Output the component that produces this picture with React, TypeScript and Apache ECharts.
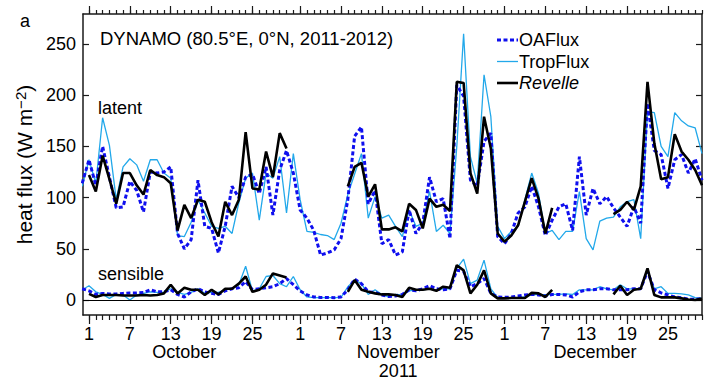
import React, { useEffect, useRef } from 'react';
import * as echarts from 'echarts';

// Day index: 0 = 1 Oct 2011 ... 90 = 30 Dec 2011 (first entry = 30 Sep)
const FIRST_DAY = -1;
const N = 92;
const DAYS: number[] = Array.from({ length: N }, (_, i) => FIRST_DAY + i);

// Latent heat flux (W m-2)
const OA_LATENT: (number | null)[] = [114,
  137, 112, 150, 120, 90, 91, 116, 107, 86, 125,
  124, 125, 130, 65, 50, 59, 117, 72, 70, 46,
  72, 111, 100, 120, 123, 104, 130, 83, 127, 146,
  124, 88, 80, 68, 44, 46, 49, 60, 98, 160,
  169, 94, 107, 55, 59, 44, 47, 88, 65, 75,
  120, 96, 99, 60, 210, 199, 117, 111, 155, 163,
  62, 55, 65, 85, 91, 111, 91, 63, 78, 91,
  94, 68, 140, 83, 109, 94, 101, 90, 81, 72,
  91, 75, 192, 146, 142, 109, 137, 142, 124, 138,
  117];
const TROP_LATENT: (number | null)[] = [111,
  137, 114, 178, 151, 98, 130, 138, 132, 116, 137,
  137, 124, 119, 63, 62, 76, 98, 85, 72, 70,
  72, 65, 95, 119, 124, 78, 124, 119, 140, 85,
  143, 98, 67, 66, 64, 63, 59, 75, 103, 123,
  143, 80, 101, 80, 83, 72, 62, 88, 72, 75,
  106, 67, 73, 65, 150, 260, 140, 114, 220, 179,
  72, 60, 67, 72, 98, 124, 104, 65, 68, 59,
  67, 67, 106, 60, 49, 77, 80, 81, 91, 96,
  98, 60, 184, 183, 150, 140, 183, 175, 170, 168,
  143];
const REV_LATENT: (number | null)[] = [null,
  122, 106, 141, 118, 94, 124, 124, 112, 103, 127,
  122, 120, 114, 68, 93, 80, 98, 96, 76, 62,
  96, 83, 98, 164, 109, 108, 145, 120, 163, 148,
  null, null, null, null, null, null, null, null, 111, 130,
  134, 101, 113, 69, 69, 71, 67, 94, 88, 70,
  99, 91, 93, 87, 213, 212, 124, 104, 179, 148,
  65, 57, 63, 73, 96, 119, 99, 65, 90, null,
  null, null, null, null, null, null, null, 84, 88, 96,
  88, 111, 213, 153, 118, 120, 162, 145, 137, 127,
  112];

// Sensible heat flux (W m-2)
const OA_SENS: (number | null)[] = [11,
  9, 5.5, 6.5, 6, 6, 6.5, 7, 7, 7.5, 10,
  8, 8, 10, 5.5, 3, 8, 11, 8, 6.5, 5.5,
  9, 11, 12, 18, 10, 11, 12, 13, 16, 21,
  15, 9, 5, 3, 2.6, 2.6, 2.3, 3, 10, 20.5,
  16, 8, 7.5, 5, 3.5, 4, 5.5, 10, 9, 11,
  14, 11, 10, 11, 29, 28, 13, 16, 21, 6.5,
  3, 2.6, 3, 4, 5, 5.5, 5, 4, 5.5, 5.5,
  5, 3, 8, 10, 10, 11, 11, 10, 10, 10,
  11, 11, 28, 10, 7, 5, 3, 2.3, 1, 0.6,
  1.6];
const TROP_SENS: (number | null)[] = [10,
  14, 8, 5.5, 1.6, 5.5, 5, 0, 5, 6.5, 8,
  7.5, 7.5, 11, 7.5, 5.5, 7.5, 11, 6.5, 7.5, 7.5,
  10, 11, 15, 33, 9, 11, 23, 24, 16, 13,
  23, 10, 3, 2.3, 2.3, 2.3, 2.3, 2.6, 13, 19.5,
  16, 5.5, 10, 5.5, 3, 5.5, 5, 9, 10, 10,
  11, 10, 11, 11, 31, 40, 16, 19.5, 39, 11,
  2.3, 1.6, 1.6, 2.6, 3, 5, 5.5, 5, 5.5, 5.5,
  6, 5.5, 10, 10, 10, 13, 11, 10, 15, 11,
  11, 11, 28, 11, 13, 6.5, 6.5, 6, 5, 2.3,
  1.6];
const REV_SENS: (number | null)[] = [null,
  6, 3, 5, 5, 5, 4.5, 4.5, 4.5, 5, 4.5,
  5, 6.5, 15, 6.5, 12, 10, 10, 5, 10, 5.5,
  11, 11, 16, 23, 8, 10, 15, 26, 24, 22,
  null, null, null, null, null, null, null, null, 8, 19.5,
  10, 8, 6.5, 5.5, 5.5, 5, 3, 12, 10, 10,
  11, 9, 13, 12, 34, 29, 6.5, 15, 29, 6.5,
  1.6, 1.6, 2, 2, 2, 7, 6.5, 3, 10, null,
  null, null, null, null, null, null, null, 5.5, 14, 5,
  10, 11, 31, 5, 2.6, 2.6, 2.6, 1.6, 0.6, 0,
  1.6];

// Axis ticks / labels
const DAILY_TICKS: number[] = Array.from({ length: 91 }, (_, i) => i);
const DAY_TICK_VALUES = [0, 6, 12, 18, 24, 31, 37, 43, 49, 55, 61, 67, 73, 79, 85];
const DAY_TICK_LABELS = ['1', '7', '13', '19', '25', '1', '7', '13', '19', '25', '1', '7', '13', '19', '25'];
const MONTH_VALUES = [14, 45.4, 74.3];
const MONTH_LABELS = ['October', 'November\n2011', 'December'];
const Y_TICKS = [0, 50, 100, 150, 200, 250];
const LEGEND_NAMES = ['OAFlux', 'TropFlux', 'Revelle'];

const X_MIN = -0.88;
const X_MAX = 90.0;
const Y_MIN = -14.6;
const Y_MAX = 279.3;

const BLUE = '#0f0fee';
const CYAN = '#22a8ea';
const BLACK = '#000000';
const AXIS = '#1a1a1a';
const FONT = '"Liberation Sans", Arial, Helvetica, sans-serif';

export default function App() {
  const ref = useRef<HTMLDivElement>(null);
  useEffect(() => {
    const chart = echarts.init(ref.current!, null, { renderer: 'svg' });
    const pair = (arr: (number | null)[]) => arr.map((v, i) => [DAYS[i], v]);
    const xBase = { type: 'value', min: X_MIN, max: X_MAX, splitLine: { show: false }, gridIndex: 0 };
    const tickStyle = { color: AXIS, width: 1.2 };

    const cyanStyle = { color: CYAN, width: 1.3 };
    const blueStyle = { color: BLUE, width: 3, type: [4, 2.5], cap: 'butt' };
    const blackStyle = { color: BLACK, width: 2.6 };
    const legendStyles = [blueStyle, cyanStyle, blackStyle];

    const mkSeries = (name: string, data: (number | null)[], ls: any, z: number, extra: any = {}) => ({
      name, type: 'line', data: pair(data), symbol: 'none', showSymbol: false,
      lineStyle: ls, itemStyle: { color: ls.color }, z, clip: true, connectNulls: false,
      emphasis: { disabled: true }, ...extra,
    });

    const legendGraphics: any[] = [];
    LEGEND_NAMES.forEach((n, i) => {
      const y = 40 + i * 21.5;
      const ls: any = legendStyles[i];
      legendGraphics.push({ type: 'line', shape: { x1: 497, y1: y, x2: 518, y2: y },
        style: { stroke: ls.color, lineWidth: ls.width, lineDash: Array.isArray(ls.type) ? ls.type : null, lineCap: 'butt' } });
      legendGraphics.push({ type: 'text', x: 519, y,
        style: { text: n, fontSize: 18, fontFamily: FONT, fill: '#000', fontStyle: n === 'Revelle' ? 'italic' : 'normal',
          textAlign: 'left', textVerticalAlign: 'middle' } });
    });

    const option: any = {
      animation: false,
      textStyle: { fontFamily: FONT },
      grid: { left: 83, top: 14, right: 3, bottom: 66, containLabel: false, outerBoundsMode: 'none' },
      xAxis: [
        { ...xBase, position: 'bottom',
          axisLine: { show: true, onZero: false, lineStyle: { color: AXIS, width: 1.5 } },
          axisTick: { show: true, inside: false, length: 5, customValues: DAILY_TICKS, lineStyle: tickStyle },
          axisLabel: { show: false } },
        { ...xBase, position: 'bottom',
          axisLine: { show: false, onZero: false },
          axisTick: { show: true, inside: false, length: 9, customValues: DAY_TICK_VALUES, lineStyle: tickStyle },
          axisLabel: { show: true, customValues: DAY_TICK_VALUES, margin: 10, fontSize: 18, color: '#000', fontFamily: FONT,
            formatter: (v: number) => DAY_TICK_LABELS[DAY_TICK_VALUES.indexOf(v)] ?? '' } },
        { ...xBase, position: 'bottom',
          axisLine: { show: false, onZero: false }, axisTick: { show: false },
          axisLabel: { show: true, customValues: MONTH_VALUES, margin: 28, fontSize: 18, lineHeight: 18.8, color: '#000', fontFamily: FONT,
            formatter: (v: number) => MONTH_LABELS[MONTH_VALUES.indexOf(v)] ?? '' } },
        { ...xBase, position: 'top',
          axisLine: { show: true, onZero: false, lineStyle: { color: AXIS, width: 1.5 } },
          axisTick: { show: true, inside: false, length: 4, customValues: DAILY_TICKS, lineStyle: tickStyle },
          axisLabel: { show: false } },
        { ...xBase, position: 'top',
          axisLine: { show: false, onZero: false },
          axisTick: { show: true, inside: false, length: 8, customValues: DAY_TICK_VALUES, lineStyle: tickStyle },
          axisLabel: { show: false } },
      ],
      yAxis: [
        { type: 'value', min: Y_MIN, max: Y_MAX, position: 'left', splitLine: { show: false },
          axisLine: { show: true, onZero: false, lineStyle: { color: AXIS, width: 1.5 } },
          axisTick: { show: true, inside: true, length: 6, customValues: Y_TICKS, lineStyle: tickStyle },
          axisLabel: { show: true, customValues: Y_TICKS, margin: 7, fontSize: 18, color: '#000', fontFamily: FONT },
          name: '{b|heat flux (W m}{sup|−2}{b|)}',
          nameLocation: 'middle', nameRotate: 90, nameGap: 42,
          nameTextStyle: { fontSize: 21, color: '#000', fontFamily: FONT,
            rich: { b: { fontSize: 21, lineHeight: 24, fontFamily: FONT, color: '#000' },
                    sup: { fontSize: 15, verticalAlign: 'top', lineHeight: 15, fontFamily: FONT, color: '#000' } } } },
        { type: 'value', min: Y_MIN, max: Y_MAX, position: 'right', splitLine: { show: false },
          axisLine: { show: true, onZero: false, lineStyle: { color: AXIS, width: 1.5 } },
          axisTick: { show: true, inside: true, length: 6, customValues: Y_TICKS, lineStyle: tickStyle },
          axisLabel: { show: false } },
      ],
      series: [
        mkSeries('TropFlux', TROP_SENS, cyanStyle, 2, {
          markLine: { silent: true, symbol: 'none', label: { show: false }, animation: false,
            lineStyle: { color: '#000', width: 1, type: 'solid' }, data: [{ yAxis: 0 }] } }),
        mkSeries('TropFlux', TROP_LATENT, cyanStyle, 2),
        mkSeries('OAFlux', OA_SENS, blueStyle, 3),
        mkSeries('OAFlux', OA_LATENT, blueStyle, 3),
        mkSeries('Revelle', REV_SENS, blackStyle, 4),
        mkSeries('Revelle', REV_LATENT, blackStyle, 4),
      ],
      graphic: [
        { type: 'text', left: 20, top: 12, style: { text: 'a', fontSize: 18, fontFamily: FONT, fill: '#000' } },
        { type: 'text', left: 100, top: 29, style: { text: 'DYNAMO (80.5°E, 0°N, 2011-2012)', fontSize: 18.5, fontFamily: FONT, fill: '#000' } },
        { type: 'text', left: 98, top: 99, style: { text: 'latent', fontSize: 18, fontFamily: FONT, fill: '#000' } },
        { type: 'text', left: 98, top: 265, style: { text: 'sensible', fontSize: 18, fontFamily: FONT, fill: '#000' } },
        ...legendGraphics,
      ],
    };
    chart.setOption(option);
    return () => chart.dispose();
  }, []);
  return <div ref={ref} style={{ position: 'fixed', left: 0, top: 0, width: 705, height: 381, background: '#fff' }} />;
}
